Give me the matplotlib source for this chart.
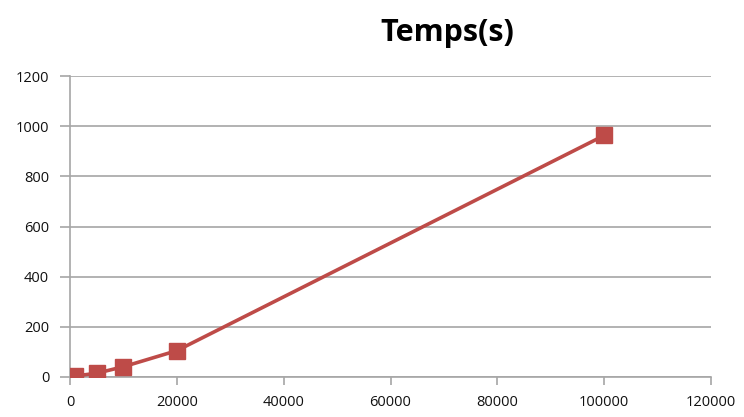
import matplotlib.pyplot as plt

# Dados
tamanhos = [1000, 5000, 10000, 20000, 100000]
tempos = [4, 15, 41, 105, 963]
x_ticks = [0, 20000, 40000, 60000, 80000, 100000, 120000]
y_ticks = [0, 200, 400, 600, 800, 1000, 1200]

plt.rcParams['font.family'] = ['Open Sans', 'DejaVu Sans']

fig = plt.figure(figsize=(7.44, 4.17), dpi=100)
ax = fig.add_axes([70 / 744, 1 - 377 / 417, 641 / 744, 301 / 417])

ax.plot(tamanhos, tempos, color='#BE4B48', linewidth=2.6,
        marker='s', markersize=11, markerfacecolor='#BE4B48',
        markeredgecolor='#BE4B48', zorder=3)

ax.set_xlim(0, 120000)
ax.set_ylim(0, 1200)
ax.set_xticks(x_ticks)
ax.set_yticks(y_ticks)
ax.set_xticklabels([str(v) for v in x_ticks], fontsize=10.5, color='#111111')
ax.set_yticklabels([str(v) for v in y_ticks], fontsize=10.5, color='#111111')

# Grade horizontal estilo Excel
ax.grid(axis='y', color='#A6A6A6', linewidth=1.2)
ax.set_axisbelow(True)
for lado in ['top', 'right']:
    ax.spines[lado].set_visible(False)
ax.spines['left'].set_color('#A6A6A6')
ax.spines['left'].set_linewidth(1.2)
ax.spines['bottom'].set_color('#A6A6A6')
ax.spines['bottom'].set_linewidth(1.2)
ax.tick_params(axis='y', length=7, color='#A6A6A6', width=1.2, pad=8)
ax.tick_params(axis='x', length=6, color='#A6A6A6', width=1.2, pad=7)

fig.text(447 / 744, 1 - 33 / 417, 'Temps(s)', fontsize=22, fontweight='bold',
         ha='center', va='center')

fig.savefig('out.png', dpi=100, facecolor='white')
